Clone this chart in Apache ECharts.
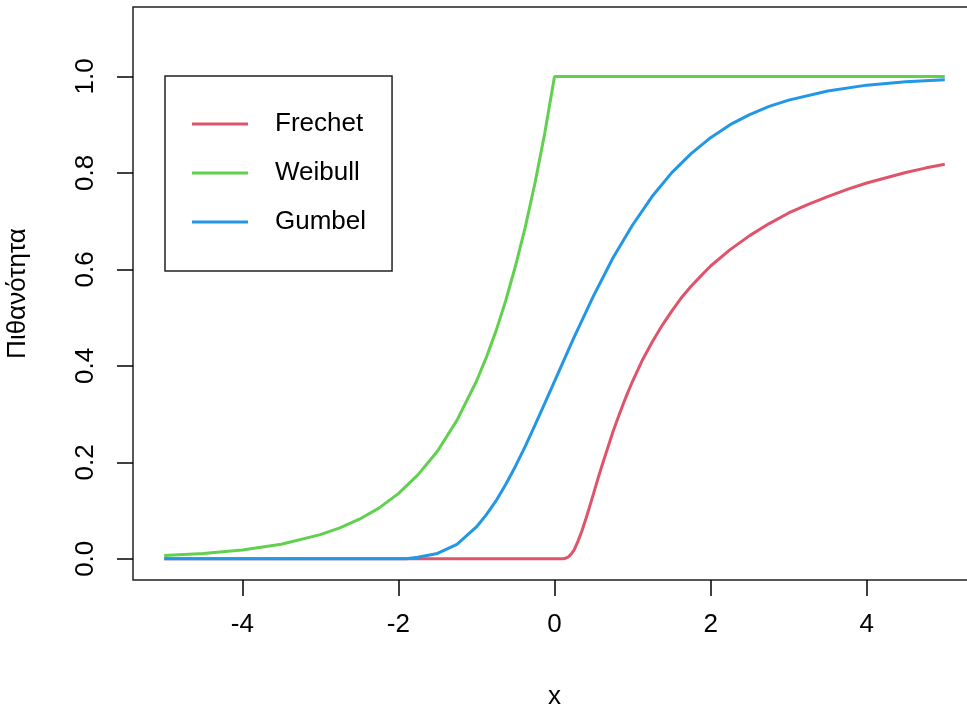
<!DOCTYPE html>
<html>
<head>
<meta charset="utf-8">
<title>Κατανομές ακραίων τιμών</title>
<script src="https://cdn.jsdelivr.net/npm/echarts@6/dist/echarts.min.js"></script>
<style>
  html, body { margin: 0; padding: 0; background: #fff; overflow: hidden; }
  #chart { width: 967px; height: 709px; }
</style>
</head>
<body>
<div id="chart"></div>
<script>
// Cumulative probability curves for three extreme value distributions
const seriesNames = ['Frechet', 'Weibull', 'Gumbel'];
const seriesColors = ['#DF536B', '#61D04F', '#2297E6'];

const frechetX = [-5, 0.12, 0.18, 0.22, 0.25, 0.3, 0.35, 0.4, 0.45, 0.5, 0.56, 0.62, 0.69, 0.75, 0.82, 0.88, 0.94, 1.0, 1.12, 1.25, 1.38, 1.5, 1.62, 1.75, 1.88, 2.0, 2.25, 2.5, 2.75, 3.0, 3.25, 3.5, 3.75, 4.0, 4.25, 4.5, 4.75, 5.0];
const frechetY = [0, 0, 0.004, 0.011, 0.018, 0.036, 0.057, 0.082, 0.108, 0.135, 0.168, 0.199, 0.234, 0.264, 0.295, 0.321, 0.345, 0.368, 0.410, 0.449, 0.484, 0.513, 0.540, 0.565, 0.587, 0.607, 0.641, 0.670, 0.695, 0.717, 0.735, 0.751, 0.766, 0.779, 0.790, 0.801, 0.810, 0.818];

const weibullX = [-5, -4.5, -4, -3.5, -3, -2.75, -2.5, -2.25, -2, -1.75, -1.5, -1.25, -1, -0.875, -0.75, -0.625, -0.5, -0.375, -0.25, -0.125, 0, 5];
const weibullY = [0.007, 0.011, 0.018, 0.030, 0.050, 0.064, 0.082, 0.105, 0.135, 0.174, 0.223, 0.287, 0.368, 0.417, 0.472, 0.535, 0.607, 0.687, 0.779, 0.882, 1.0, 1.0];

const gumbelX = [-5, -1.9, -1.75, -1.5, -1.25, -1, -0.875, -0.75, -0.625, -0.5, -0.375, -0.25, -0.125, 0, 0.25, 0.5, 0.75, 1, 1.25, 1.5, 1.75, 2, 2.25, 2.5, 2.75, 3, 3.5, 4, 4.5, 5];
const gumbelY = [0, 0, 0.003, 0.011, 0.030, 0.066, 0.091, 0.120, 0.154, 0.192, 0.233, 0.277, 0.322, 0.368, 0.459, 0.545, 0.624, 0.692, 0.751, 0.800, 0.840, 0.873, 0.900, 0.921, 0.938, 0.951, 0.970, 0.982, 0.989, 0.993];

const xTicks = [-4, -2, 0, 2, 4];
const yTicks = [0, 0.2, 0.4, 0.6, 0.8, 1.0];

const xTitle = 'x';
const yTitle = 'Πιθανότητα';

function zip(xs, ys) { return xs.map((x, i) => [x, ys[i]]); }
const curves = [zip(frechetX, frechetY), zip(weibullX, weibullY), zip(gumbelX, gumbelY)];

const font = '"Liberation Sans", Arial, sans-serif';
const chart = echarts.init(document.getElementById('chart'), null, { renderer: 'canvas' });

chart.setOption({
  backgroundColor: '#ffffff',
  animation: false,
  textStyle: { fontFamily: font },
  grid: {
    left: 133, top: 7, width: 843, bottom: 129,
    outerBoundsMode: 'none', containLabel: false,
    show: true, borderColor: '#222', borderWidth: 1.5, backgroundColor: 'transparent'
  },
  xAxis: {
    type: 'value', min: -5.4, max: 5.4,
    name: xTitle, nameLocation: 'middle', nameGap: 104,
    nameTextStyle: { fontSize: 26, color: '#000', fontFamily: font },
    axisLine: { show: false, onZero: false },
    splitLine: { show: false },
    axisTick: { show: true, customValues: xTicks, length: 16, inside: false, lineStyle: { color: '#000', width: 1.5 } },
    axisLabel: { customValues: xTicks, margin: 32, fontSize: 26, color: '#000', fontFamily: font, formatter: v => String(v) }
  },
  yAxis: {
    type: 'value', min: -0.044, max: 1.144,
    name: yTitle, nameLocation: 'middle', nameGap: 102, nameRotate: 90,
    nameTextStyle: { fontSize: 26, color: '#000', fontFamily: font },
    axisLine: { show: false, onZero: false },
    splitLine: { show: false },
    axisTick: { show: true, customValues: yTicks, length: 16, inside: false, lineStyle: { color: '#000', width: 1.5 } },
    axisLabel: { customValues: yTicks, rotate: 90, margin: 34, fontSize: 26, color: '#000', fontFamily: font, formatter: v => v.toFixed(1) }
  },
  legend: {
    orient: 'vertical', left: 165, top: 76,
    padding: [35, 26, 36, 27],
    itemGap: 23, itemWidth: 56, itemHeight: 3, icon: 'rect',
    borderColor: '#222', borderWidth: 1.5, backgroundColor: '#fff',
    textStyle: { fontSize: 26, lineHeight: 26, color: '#000', fontFamily: font, width: 91, padding: [0, 0, 0, 22] },
    data: seriesNames
  },
  series: seriesNames.map((name, i) => ({
    name: name,
    type: 'line',
    data: curves[i],
    showSymbol: false,
    symbol: 'none',
    smooth: false,
    clip: true,
    color: seriesColors[i],
    lineStyle: { width: 3, color: seriesColors[i] }
  }))
});
</script>
</body>
</html>
